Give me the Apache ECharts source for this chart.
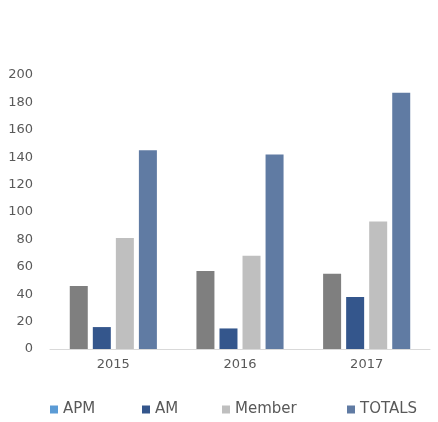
<!DOCTYPE html>
<html>
<head>
<meta charset="utf-8">
<script src="https://cdn.jsdelivr.net/npm/echarts@6/dist/echarts.min.js"></script>
<style>
  html, body { margin: 0; padding: 0; background: #fff; }
  #chart { width: 438px; height: 422px; }
</style>
</head>
<body>
<div id="chart"></div>
<script>
// Yearly counts by group
const years = ['2015', '2016', '2017'];
const apm = [46, 57, 55];
const am = [16, 15, 38];
const member = [81, 68, 93];
const totals = [145, 142, 187];

const seriesNames = ['APM', 'AM', 'Member', 'TOTALS'];
const barColors = ['#7f7f7f', '#34568c', '#bfbfbf', '#607ba3'];
const legendColors = ['#5b9bd5', '#34568c', '#bfbfbf', '#607ba3'];
const legendLeft = [50, 142, 222, 347];
const values = [apm, am, member, totals];

const chart = echarts.init(document.getElementById('chart'));

chart.setOption({
  animation: false,
  backgroundColor: '#ffffff',
  textStyle: { fontFamily: 'DejaVu Sans, sans-serif' },
  grid: { left: 50, right: 8, top: 75, bottom: 73 },
  legend: seriesNames.map((name, i) => ({
    left: legendLeft[i] - 5,
    top: 397,
    itemWidth: 8,
    itemHeight: 8,
    itemGap: 0,
    icon: 'rect',
    textStyle: { fontSize: 15, color: '#595959' },
    data: [{ name: name, itemStyle: { color: legendColors[i] } }]
  })),
  xAxis: {
    type: 'category',
    data: years,
    axisLine: { lineStyle: { color: '#d9d9d9', width: 1 } },
    axisTick: { show: false },
    axisLabel: { color: '#595959', fontSize: 13, margin: 9 }
  },
  yAxis: {
    type: 'value',
    min: 0,
    max: 200,
    interval: 20,
    axisLine: { show: false },
    axisTick: { show: false },
    splitLine: { show: false },
    axisLabel: { color: '#595959', fontSize: 13, margin: 17 }
  },
  series: seriesNames.map((name, i) => ({
    name: name,
    type: 'bar',
    data: values[i],
    barWidth: 18,
    barGap: '28%',
    itemStyle: { color: barColors[i] }
  }))
});
</script>
</body>
</html>
